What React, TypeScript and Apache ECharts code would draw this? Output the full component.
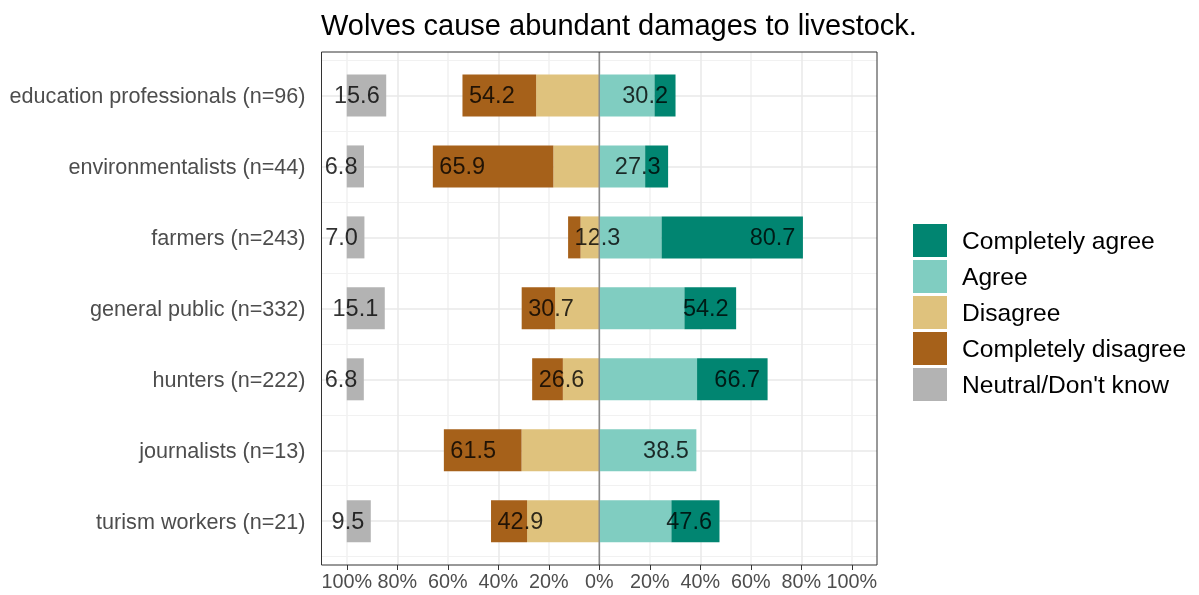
import React, { useEffect, useRef } from 'react';
import * as echarts from 'echarts';

const categories = [
  'education professionals (n=96)',
  'environmentalists (n=44)',
  'farmers (n=243)',
  'general public (n=332)',
  'hunters (n=222)',
  'journalists (n=13)',
  'turism workers (n=21)',
];
const completelyAgree = [8.33, 9.09, 55.97, 20.48, 27.93, 0, 19.05];
const agree = [21.88, 18.18, 24.69, 33.73, 38.74, 38.46, 28.57];
const disagree = [25.0, 18.18, 7.41, 17.47, 14.41, 30.77, 28.57];
const completelyDisagree = [29.17, 47.73, 4.93, 13.25, 12.16, 30.77, 14.29];
const neutral = [15.63, 6.82, 7.0, 15.06, 6.76, 0, 9.52];
const neutralStart = [-100, -100, -100, -100, -100, -100, -100];
const xTicks = [-100, -80, -60, -40, -20, 0, 20, 40, 60, 80, 100];
const zeroLine = [[0, 0], [0, 1]];

const legendNames = ['Completely agree', 'Agree', 'Disagree', 'Completely disagree', "Neutral/Don't know"];
const colors = {
  ca: '#018571',
  a: '#80CDC1',
  d: '#DFC27D',
  cd: '#A6611A',
  n: '#B3B3B3',
};

const FONT = "'Liberation Sans', Arial, Helvetica, sans-serif";

export default function App() {
  const ref = useRef<HTMLDivElement>(null);
  useEffect(() => {
    const chart = echarts.init(ref.current as HTMLDivElement, null, { renderer: 'svg' });
    const fmt = (v: number) => (Math.round(v * 10) / 10).toFixed(1);
    const agreeTot = agree.map((v, i) => v + completelyAgree[i]);
    const disTot = disagree.map((v, i) => v + completelyDisagree[i]);
    const bar = {
      type: 'bar',
      xAxisIndex: 1,
      yAxisIndex: 1,
      barWidth: 42,
      barGap: '-100%',
      silent: true,
    };
    const lbl = { show: true, color: '#000', fontSize: 23.5, fontFamily: FONT };
    const labelSeries = (data: any[], position: string, distance: number) => ({
      type: 'scatter',
      xAxisIndex: 1,
      yAxisIndex: 1,
      symbolSize: 1,
      itemStyle: { color: 'rgba(0,0,0,0)' },
      silent: true,
      z: 5,
      label: { ...lbl, position, distance },
      data,
    });
    const option: any = {
      animation: false,
      textStyle: { fontFamily: FONT },
      title: {
        text: 'Wolves cause abundant damages to livestock.',
        left: 316,
        top: 5,
        textStyle: { fontSize: 29, fontWeight: 'normal', color: '#000', fontFamily: FONT },
      },
      legend: {
        data: legendNames,
        orient: 'vertical',
        left: 908,
        top: 219,
        itemWidth: 34,
        itemHeight: 33,
        itemGap: 3,
        icon: 'rect',
        selectedMode: false,
        textStyle: { fontSize: 24.6, color: '#000', fontFamily: FONT, padding: [0, 0, 0, 10] },
      },
      grid: [
        { left: 321.5, right: 322, top: 52, bottom: 30 },
        { left: 321.5, right: 322, top: 60, bottom: 38.3 },
      ],
      xAxis: [
        {
          gridIndex: 0,
          type: 'value',
          min: -110,
          max: 110,
          interval: 10,
          axisLine: { show: false },
          axisTick: { show: true, customValues: xTicks, length: 5, lineStyle: { color: '#333333', width: 1 } },
          axisLabel: {
            customValues: xTicks,
            formatter: (v: number) => Math.abs(v) + '%',
            fontSize: 19.8,
            color: '#4D4D4D',
            margin: 6,
            fontFamily: FONT,
          },
          splitLine: { show: true, showMinLine: true, lineStyle: { color: ['#F1F1F1', '#E8E8E8'], width: 1.5 } },
        },
        { gridIndex: 1, type: 'value', min: -110, max: 110, show: false, splitLine: { show: false } },
      ],
      yAxis: [
        { gridIndex: 0, type: 'value', min: 0, max: 1, show: false, splitLine: { show: false } },
        {
          gridIndex: 1,
          type: 'category',
          data: categories,
          inverse: true,
          axisLine: { show: false },
          axisTick: { show: true, alignWithLabel: true, length: 6, lineStyle: { color: '#333333', width: 1 } },
          axisLabel: { interval: 0, fontSize: 21.6, color: '#4D4D4D', margin: 16, fontFamily: FONT },
          splitLine: { show: true, interval: 0, lineStyle: { color: '#F1F1F1', width: 1 } },
        },
      ],
      graphic: [
        {
          type: 'rect',
          silent: true,
          z: 100,
          shape: { x: 321.5, y: 52, width: 555.5, height: 513 },
          style: { fill: 'none', stroke: '#333333', lineWidth: 1 },
        },
      ],
      series: [
        {
          ...bar,
          name: 'neutral-base',
          stack: 'neu',
          stackStrategy: 'all',
          itemStyle: { color: 'rgba(0,0,0,0)' },
          data: neutralStart,
          markLine: {
            silent: true,
            symbol: 'none',
            z: 1,
            label: { show: false },
            lineStyle: { color: '#E8E8E8', type: 'solid', width: 1.5 },
            data: categories.map((c) => ({ yAxis: c })),
          },
        },
        {
          ...bar,
          name: "Neutral/Don't know",
          stack: 'neu',
          stackStrategy: 'all',
          itemStyle: { color: colors.n },
          data: neutral,
        },
        { ...bar, name: 'Agree', stack: 'lik', itemStyle: { color: colors.a }, data: agree },
        { ...bar, name: 'Completely agree', stack: 'lik', itemStyle: { color: colors.ca }, data: completelyAgree },
        { ...bar, name: 'Disagree', stack: 'lik', itemStyle: { color: colors.d }, data: disagree.map((v) => -v) },
        {
          ...bar,
          name: 'Completely disagree',
          stack: 'lik',
          itemStyle: { color: colors.cd },
          data: completelyDisagree.map((v) => -v),
        },
        {
          type: 'line',
          xAxisIndex: 0,
          yAxisIndex: 0,
          data: zeroLine,
          symbol: 'none',
          silent: true,
          z: 6,
          lineStyle: { color: '#8C8C8C', width: 1.5 },
        },
        labelSeries(
          agreeTot.map((t, i) => ({ value: [t, i], label: { formatter: fmt(t) } })),
          'left',
          7
        ),
        labelSeries(
          disTot.map((t, i) => ({ value: [-t, i], label: { formatter: fmt(t) } })),
          'right',
          6
        ),
        labelSeries(
          neutral
            .map((v, i) => (v > 0 ? { value: [neutralStart[i] + v, i], label: { formatter: fmt(v) } } : null))
            .filter((d) => d !== null),
          'left',
          6
        ),
      ],
    };
    chart.setOption(option);
    return () => chart.dispose();
  }, []);
  return <div ref={ref} style={{ position: 'fixed', left: 0, top: 0, width: 1199, height: 595 }} />;
}
